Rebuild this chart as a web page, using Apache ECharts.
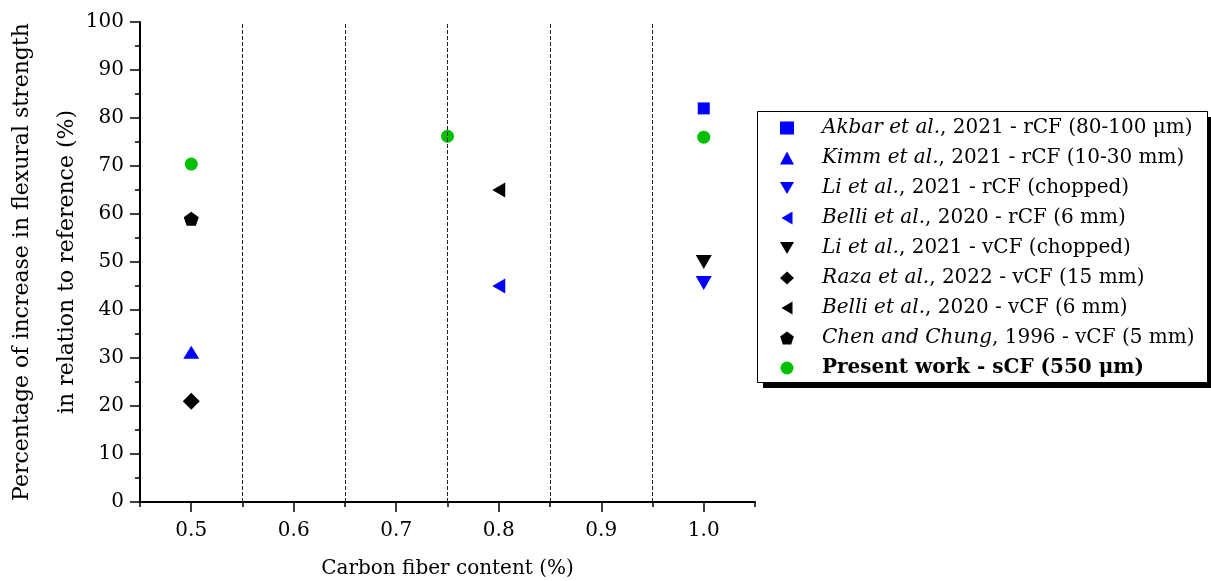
<!DOCTYPE html>
<html><head><meta charset="utf-8">
<script src="https://cdn.jsdelivr.net/npm/echarts@6/dist/echarts.min.js"></script>
<style>html,body{margin:0;padding:0;background:#fff}#c{width:1211px;height:581px}</style>
</head><body><div id="c"></div>
<script>
// ---- data ----
const xTicks = [0.5, 0.6, 0.7, 0.8, 0.9, 1.0];
const dividers = [0.55, 0.65, 0.75, 0.85, 0.95];
const authors = ['Akbar et al.', 'Kimm et al.', 'Li et al.', 'Belli et al.', 'Li et al.', 'Raza et al.', 'Belli et al.', 'Chen and Chung', ''];
const details = [', 2021 - rCF (80-100 μm)', ', 2021 - rCF (10-30 mm)', ', 2021 - rCF (chopped)', ', 2020 - rCF (6 mm)', ', 2021 - vCF (chopped)', ', 2022 - vCF (15 mm)', ', 2020 - vCF (6 mm)', ', 1996 - vCF (5 mm)', 'Present work - sCF (550 μm)'];
const akbar = [[1.0, 82]];
const kimm = [[0.5, 31.2]];
const liR = [[1.0, 45.6]];
const belliR = [[0.8, 45]];
const liV = [[1.0, 50]];
const raza = [[0.5, 21]];
const belliV = [[0.8, 65]];
const chen = [[0.5, 59]];
const present = [[0.5, 70.4], [0.75, 76.2], [1.0, 76]];

const seriesData = [akbar, kimm, liR, belliR, liV, raza, belliV, chen, present];
const names = authors.map((a, i) => a + details[i]);

const BLUE = '#0000ff', BLACK = '#000000', GREEN = '#00c000';
const DOWN = 'path://M0,0 L2,0 L1,1.7 Z';
const LEFT = 'path://M0,1 L1.7,0 L1.7,2 Z';
const PENT = 'path://M1,0 L1.951,0.691 L1.588,1.809 L0.412,1.809 L0.049,0.691 Z';
const styles = [
  {symbol: 'rect', size: 12, color: BLUE},
  {symbol: 'triangle', size: [16, 13], color: BLUE},
  {symbol: DOWN, size: [16, 14], color: BLUE},
  {symbol: LEFT, size: [13, 15], color: BLUE},
  {symbol: DOWN, size: [16, 14], color: BLACK},
  {symbol: 'diamond', size: [17, 17], color: BLACK},
  {symbol: LEFT, size: [13, 15], color: BLACK},
  {symbol: PENT, size: [15, 14], color: BLACK},
  {symbol: 'circle', size: 13, color: GREEN}
];

const FONT = 'DejaVu Serif';
const chart = echarts.init(document.getElementById('c'), null, {renderer: 'canvas'});

const series = seriesData.map((d, i) => ({
  name: names[i],
  type: 'scatter',
  xAxisIndex: 0,
  yAxisIndex: 0,
  data: d,
  symbol: styles[i].symbol,
  symbolSize: styles[i].size,
  itemStyle: {color: styles[i].color, opacity: 1},
  z: 3
}));
series.push({
  type: 'scatter', name: '__div', data: [], xAxisIndex: 0, yAxisIndex: 0,
  markLine: {
    silent: true, symbol: 'none', label: {show: false},
    lineStyle: {color: '#222', width: 1, type: [4, 2]},
    data: dividers.map(v => ({xAxis: v}))
  }
});

chart.setOption({
  animation: false,
  backgroundColor: '#fff',
  grid: {left: 140, right: 456, top: 22, bottom: 79, containLabel: false, outerBoundsMode: 'none'},
  graphic: [
    {type: 'rect', z: 1, shape: {x: 763, y: 117, width: 450, height: 271}, style: {fill: '#000'}, silent: true},
    {type: 'rect', z: 2, shape: {x: 757.5, y: 111.5, width: 450, height: 271}, style: {fill: '#fff', stroke: '#000', lineWidth: 1}, silent: true}
  ],
  xAxis: [{
    type: 'value', min: 0.45, max: 1.05, interval: 0.05,
    position: 'bottom',
    axisLine: {show: true, onZero: false, lineStyle: {color: '#000', width: 2}},
    axisTick: {show: true, inside: false, length: 5, lineStyle: {color: '#000', width: 1.5}},
    axisLabel: {show: false},
    splitLine: {show: false},
    name: 'Carbon fiber content (%)', nameLocation: 'middle', nameGap: 57, nameMoveOverlap: false,
    nameTextStyle: {fontFamily: FONT, fontSize: 20, color: '#000'}
  }, {
    type: 'value', min: 0.45, max: 1.05,
    position: 'bottom',
    axisLine: {show: false, onZero: false},
    axisTick: {show: true, inside: false, length: 10, customValues: xTicks, lineStyle: {color: '#000', width: 1.5}},
    axisLabel: {show: true, customValues: xTicks, margin: 19, fontFamily: FONT, fontSize: 20, color: '#000',
      formatter: v => v.toFixed(1)},
    splitLine: {show: false}
  }],
  yAxis: {
    type: 'value', min: 0, max: 100, interval: 10,
    axisLine: {show: true, lineStyle: {color: '#000', width: 2}},
    axisTick: {show: true, length: 10, lineStyle: {color: '#000', width: 1.5}},
    minorTick: {show: true, splitNumber: 2, length: 5, lineStyle: {color: '#000', width: 1.5}},
    axisLabel: {margin: 16, fontFamily: FONT, fontSize: 20, color: '#000'},
    splitLine: {show: false},
    name: 'Percentage of increase in flexural strength\nin relation to reference (%)',
    nameLocation: 'middle', nameGap: 50, nameMoveOverlap: false,
    nameTextStyle: {fontFamily: FONT, fontSize: 22, color: '#000', lineHeight: 45}
  },
  legend: {
    orient: 'vertical', left: 757, top: 118, z: 5,
    data: names,
    itemWidth: 14, itemHeight: 13, itemGap: 10,
    padding: [0, 8, 0, 23],
    selectedMode: false,
    formatter: function (n) {
      const i = names.indexOf(n);
      if (authors[i] === '') return '{s|}{b|' + details[i] + '}';
      return '{s|}{i|' + authors[i] + '}{n|' + details[i] + '}';
    },
    textStyle: {
      fontFamily: FONT, fontSize: 20, color: '#000',
      rich: {
        s: {width: 23},
        i: {fontFamily: FONT, fontSize: 20, fontStyle: 'italic', color: '#000'},
        n: {fontFamily: FONT, fontSize: 20, color: '#000'},
        b: {fontFamily: FONT, fontSize: 20, fontWeight: 'bold', color: '#000'}
      }
    }
  },
  series: series
});
</script></body></html>
